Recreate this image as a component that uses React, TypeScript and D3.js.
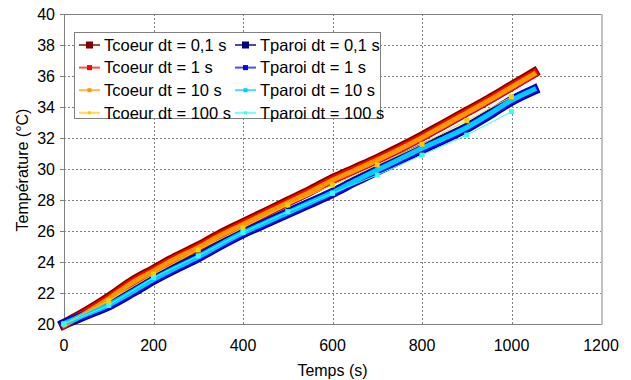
import React from "react";
import * as d3 from "d3";

const times = [0, 50, 100, 150, 200, 250, 300, 350, 400, 450, 500, 550, 600, 650, 700, 750, 800, 850, 900, 950, 1000, 1050];
const tcoeurFine = [20.0, 20.8, 21.7, 22.7, 23.5, 24.3, 25.0, 25.8, 26.5, 27.2, 27.9, 28.6, 29.35, 30.0, 30.65, 31.35, 32.1, 32.9, 33.7, 34.5, 35.35, 36.2];
const tparoiFine = [20.0, 20.6, 21.2, 22.0, 22.85, 23.6, 24.3, 25.1, 25.85, 26.5, 27.15, 27.8, 28.45, 29.2, 29.9, 30.6, 31.3, 31.95, 32.65, 33.5, 34.4, 35.1];

const times100 = [0, 100, 200, 300, 400, 500, 600, 700, 800, 900, 1000];
const tcoeur100 = [20.0, 21.5, 23.2, 24.77, 26.2, 27.68, 28.97, 30.26, 31.6, 33.12, 34.66];
const tparoi100 = [20.0, 21.2, 23.0, 24.4, 25.9, 27.25, 28.43, 29.61, 30.9, 32.19, 33.7];

const xTicks = [0, 200, 400, 600, 800, 1000, 1200];
const yTicks = [20, 22, 24, 26, 28, 30, 32, 34, 36, 38, 40];

const legendLabels = [
  "Tcoeur dt = 0,1 s", "Tparoi dt = 0,1 s",
  "Tcoeur dt = 1 s", "Tparoi dt = 1 s",
  "Tcoeur dt = 10 s", "Tparoi dt = 10 s",
  "Tcoeur dt = 100 s", "Tparoi dt = 100 s",
];
const colors = ["#800000", "#000080", "#FF0000", "#0000FF", "#FF9900", "#00CCFF", "#FFCC00", "#33FFFF"];
const markerSizes = [7, 7, 5, 5, 4, 4, 3, 3];

const FONT = "'Liberation Sans', Arial, sans-serif";

export default function App() {
  const left = 64, right = 601, top = 14, bottom = 324;
  const x = d3.scaleLinear().domain([0, 1200]).range([left, right]);
  const y = d3.scaleLinear().domain([20, 40]).range([bottom, top]);

  const fine = (vals: number[]) =>
    d3.line<number>().x((_, i) => x(times[i])).y((d) => y(d)).curve(d3.curveMonotoneX)(vals) || "";
  const coarse = (vals: number[]) =>
    d3.line<number>().x((_, i) => x(times100[i])).y((d) => y(d))(vals) || "";

  const bands: [number[], string, number, number][] = [
    [tcoeurFine, colors[0], 10, 0],
    [tparoiFine, colors[1], 10, 0],
    [tcoeurFine, colors[2], 8, 0.7],
    [tparoiFine, colors[3], 8, -0.5],
    [tcoeurFine, colors[4], 5, 1.2],
    [tparoiFine, colors[5], 5, -0.5],
  ];

  return (
    <svg width={631} height={380} style={{ position: "absolute", left: 0, top: 0, background: "#fff" }}>
      <rect x={0} y={0} width={631} height={380} fill="#fff" />
      {yTicks.slice(1, -1).map((t) => (
        <line key={"gy" + t} x1={left} x2={right} y1={Math.round(y(t)) + 0.5} y2={Math.round(y(t)) + 0.5}
          stroke="#808080" strokeDasharray="2,2" />
      ))}
      {xTicks.slice(1, -1).map((t) => (
        <line key={"gx" + t} y1={top} y2={bottom} x1={Math.round(x(t)) + 0.5} x2={Math.round(x(t)) + 0.5}
          stroke="#808080" strokeDasharray="2,2" />
      ))}
      <line x1={left + 0.5} x2={right} y1={top + 0.5} y2={top + 0.5} stroke="#808080" />
      <line x1={left + 0.5} x2={left + 0.5} y1={top} y2={bottom} stroke="#808080" />
      <line x1={left} x2={right} y1={bottom + 0.5} y2={bottom + 0.5} stroke="#808080" />
      <line x1={right + 1} x2={right + 1} y1={top} y2={bottom + 1} stroke="#c0c0c0" strokeWidth={2} />
      {yTicks.map((t) => (
        <line key={"ty" + t} x1={left - 4} x2={left} y1={Math.round(y(t)) + 0.5} y2={Math.round(y(t)) + 0.5} stroke="#808080" />
      ))}
      {bands.map(([vals, c, w, dy], i) => (
        <path key={"b" + i} d={fine(vals)} transform={`translate(0,${dy})`} fill="none" stroke={c}
          strokeWidth={w} strokeLinecap="square" strokeLinejoin="miter" />
      ))}
      <path d={coarse(tcoeur100)} fill="none" stroke={colors[6]} strokeWidth={1} />
      {times100.map((t, i) => (
        <rect key={"yc" + i} x={x(t) - 2.5} y={y(tcoeur100[i]) - 2.5} width={5} height={5} fill={colors[6]} />
      ))}
      <path d={coarse(tparoi100)} fill="none" stroke={colors[7]} strokeWidth={1} />
      {times100.map((t, i) => (
        <rect key={"cp" + i} x={x(t) - 2.5} y={y(tparoi100[i]) - 2.5} width={5} height={5} fill={colors[7]} />
      ))}
      {yTicks.map((t) => (
        <text key={"ly" + t} x={55} y={y(t)} dy="0.35em" textAnchor="end" fontFamily={FONT} fontSize={16} fill="#000">
          {t}
        </text>
      ))}
      {xTicks.map((t) => (
        <text key={"lx" + t} x={x(t)} y={351} textAnchor="middle" fontFamily={FONT} fontSize={16} fill="#000">
          {t}
        </text>
      ))}
      <text x={(left + right) / 2} y={376} textAnchor="middle" fontFamily={FONT} fontSize={16} fill="#000">
        Temps (s)
      </text>
      <text transform={`translate(28,170) rotate(-90)`} textAnchor="middle" fontFamily={FONT} fontSize={16} fill="#000">
        Température (°C)
      </text>
      <rect x={74.5} y={32.5} width={306} height={86} fill="#fff" stroke="#808080" />
      {legendLabels.map((lab, i) => {
        const col = i % 2, row = Math.floor(i / 2);
        const lx = col === 0 ? 79 : 235;
        const ly = 45 + row * 22.6;
        const s = markerSizes[i];
        return (
          <g key={"lg" + i}>
            <line x1={lx} x2={lx + 21} y1={ly} y2={ly} stroke={colors[i]} strokeWidth={2} opacity={0.7} />
            <rect x={lx + 10.5 - s / 2} y={ly - s / 2} width={s} height={s} fill={colors[i]} />
            <text x={lx + 25} y={ly} dy="0.35em" fontFamily={FONT} fontSize={16.5} fill="#000">{lab}</text>
          </g>
        );
      })}
    </svg>
  );
}
